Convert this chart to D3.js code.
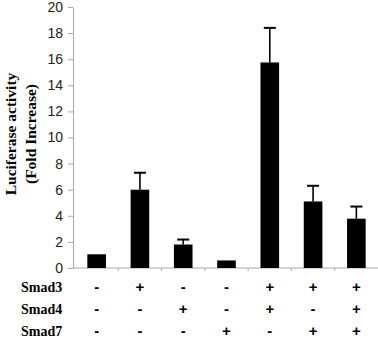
<!DOCTYPE html>
<html>
<head>
<meta charset="utf-8">
<script src="https://cdn.jsdelivr.net/npm/d3@7"></script>
<style>
  body { margin: 0; background: #fff; }
  svg { display: block; }
</style>
</head>
<body>
<figure id="chart" style="margin:0"></figure>
<script>
// values
const groups = ["g1", "g2", "g3", "g4", "g5", "g6", "g7"];
const foldIncrease = [1.05, 6.0, 1.8, 0.58, 15.75, 5.1, 3.78];
const errorUpper = [0, 1.3, 0.38, 0, 2.65, 1.2, 0.93];
const smad3 = ["-", "+", "-", "-", "+", "+", "+"];
const smad4 = ["-", "-", "+", "-", "+", "-", "+"];
const smad7 = ["-", "-", "-", "+", "-", "+", "+"];
const rowLabels = ["Smad3", "Smad4", "Smad7"];
const yTicks = [0, 2, 4, 6, 8, 10, 12, 14, 16, 18, 20];

const width = 378, height = 338;

const svg = d3.select("figure#chart")
  .append("svg")
  .attr("width", width)
  .attr("height", height);

// x band scale
const x = d3.scaleBand()
  .domain(groups)
  .range([75, 378])
  .paddingInner(0.57)
  .paddingOuter(0.285);

const y = d3.scaleLinear()
  .domain([0, 20])
  .range([268, 7]);

// y axis
svg.append("g")
  .attr("transform", "translate(73,0)")
  .call(d3.axisLeft(y)
    .tickValues(yTicks)
    .tickSize(5)
    .tickPadding(5)
    .tickSizeOuter(0))
  .call(g => g.select(".domain").attr("stroke", "#aaa"))
  .call(g => g.selectAll(".tick line").attr("stroke", "#aaa"))
  .call(g => g.selectAll("text")
    .attr("fill", "#222")
    .attr("font-family", "Liberation Sans, Arial, sans-serif")
    .attr("font-size", 14));

// x axis line with ticks between groups
svg.append("line")
  .attr("x1", 73).attr("x2", 378)
  .attr("y1", y(0)).attr("y2", y(0))
  .attr("stroke", "#aaa");
svg.selectAll("xTicks")
  .data(groups.slice(1))
  .enter()
  .append("line")
  .attr("x1", d => x(d) - (x.step() - x.bandwidth()) / 2)
  .attr("x2", d => x(d) - (x.step() - x.bandwidth()) / 2)
  .attr("y1", y(0)).attr("y2", y(0) + 3)
  .attr("stroke", "#aaa");

// error bars (upper only)
const withErr = groups.filter((d, i) => errorUpper[i] > 0);
const errTop = d => y(foldIncrease[groups.indexOf(d)] + errorUpper[groups.indexOf(d)]);

svg.selectAll("errLine")
  .data(withErr)
  .enter()
  .append("line")
  .attr("x1", d => x(d) + x.bandwidth() / 2)
  .attr("x2", d => x(d) + x.bandwidth() / 2)
  .attr("y1", d => y(foldIncrease[groups.indexOf(d)]))
  .attr("y2", errTop)
  .attr("stroke", "#000")
  .attr("stroke-width", 1.6);
svg.selectAll("errCap")
  .data(withErr)
  .enter()
  .append("line")
  .attr("x1", d => x(d) + x.bandwidth() / 2 - 6)
  .attr("x2", d => x(d) + x.bandwidth() / 2 + 6)
  .attr("y1", errTop)
  .attr("y2", errTop)
  .attr("stroke", "#000")
  .attr("stroke-width", 2);

// bars
svg.selectAll("bars")
  .data(groups)
  .enter()
  .append("rect")
  .attr("x", d => x(d))
  .attr("width", x.bandwidth())
  .attr("y", (d, i) => y(foldIncrease[i]))
  .attr("height", (d, i) => y(0) - y(foldIncrease[i]))
  .attr("fill", "#000");

// y axis title
const title = svg.append("text")
  .attr("transform", "translate(0,134) rotate(-90)")
  .attr("text-anchor", "middle")
  .attr("font-family", "Liberation Serif, Times New Roman, serif")
  .attr("font-weight", "bold")
  .attr("font-size", 15.5)
  .attr("fill", "#000");
title.append("tspan").attr("x", 0).attr("y", 16).text("Luciferase activity");
title.append("tspan").attr("x", 0).attr("y", 35.5).text("(Fold Increase)");

// treatment table
const rows = [smad3, smad4, smad7];
const rowY = [287, 309, 331];
rows.forEach((row, r) => {
  svg.append("text")
    .attr("x", 21)
    .attr("y", rowY[r])
    .attr("dy", "0.35em")
    .attr("font-family", "Liberation Serif, Times New Roman, serif")
    .attr("font-weight", "bold")
    .attr("font-size", 14)
    .text(rowLabels[r]);
  svg.selectAll("signs" + r)
    .data(row)
    .enter()
    .append("text")
    .attr("x", (d, i) => x(groups[i]) + x.bandwidth() / 2)
    .attr("y", rowY[r])
    .attr("dy", "0.35em")
    .attr("text-anchor", "middle")
    .attr("font-family", "Liberation Sans, Arial, sans-serif")
    .attr("font-weight", "bold")
    .attr("font-size", 15)
    .text(d => d);
});
</script>
</body>
</html>
